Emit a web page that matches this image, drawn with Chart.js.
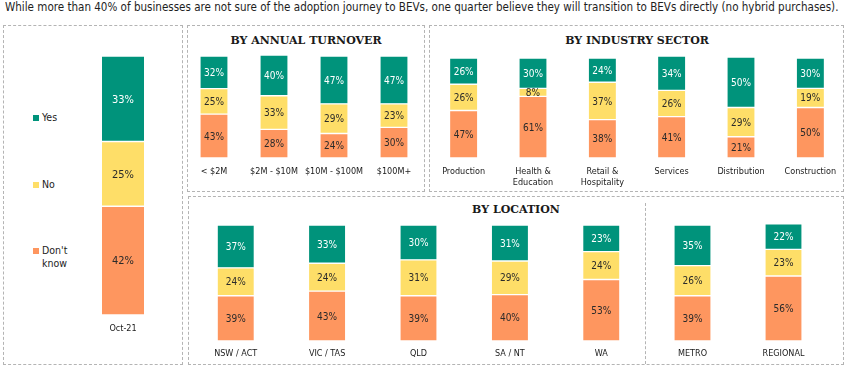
<!DOCTYPE html>
<html>
<head>
<meta charset="utf-8">
<script src="https://cdn.jsdelivr.net/npm/chart.js@4.4.0/dist/chart.umd.min.js"></script>
<style>
  body { margin: 0; background: #fff; width: 848px; height: 369px; position: relative; overflow: hidden;
         font-family: 'DejaVu Sans Condensed', sans-serif; color: #222; }
  .box { position: absolute; border: 1px dashed #b4b4b4; box-sizing: border-box; }
  .sep { position: absolute; border-left: 1px dashed #b4b4b4; width: 0; }
  .title { position: absolute; font-family: 'DejaVu Serif', serif; font-weight: bold; font-size: 11px;
           color: #1a1a1a; white-space: nowrap; transform: translate(-50%, -50%); }
  .head { position: absolute; left: 5px; top: 0px; font-size: 12px; white-space: nowrap; color: #1e1e1e; }
  .legend { position: absolute; font-size: 10.5px; color: #222; }
  .legend span.sw { position: absolute; left: 0; top: 4px; width: 6px; height: 6px; }
  .legend span.tx { position: absolute; left: 9px; top: 0; line-height: 13px; width: 40px; }
  canvas { position: absolute; }
</style>
</head>
<body>
<div class="head" id="head">While more than 40% of businesses are not sure of the adoption journey to BEVs, one quarter believe they will transition to BEVs directly (no hybrid purchases).</div>

<div class="box" style="left:3px;top:25px;width:180px;height:340px"></div>
<div class="box" style="left:187px;top:25px;width:238px;height:167px"></div>
<div class="box" style="left:429px;top:25px;width:415px;height:167px"></div>
<div class="box" style="left:188px;top:196px;width:656px;height:169px"></div>
<div class="sep" style="left:645px;top:203px;height:161px"></div>

<div class="title" style="left:306px;top:40px">BY ANNUAL TURNOVER</div>
<div class="title" style="left:637px;top:40px">BY INDUSTRY SECTOR</div>
<div class="title" style="left:516px;top:209px">BY LOCATION</div>

<div id="legend"></div>

<canvas id="overall" width="80" height="287" style="left:83px;top:52px"></canvas>
<canvas id="turnover" width="240" height="136" style="left:184px;top:52px"></canvas>
<canvas id="sector" width="416" height="135" style="left:429px;top:53px"></canvas>
<canvas id="location" width="457" height="142" style="left:190px;top:221px"></canvas>
<canvas id="area" width="182" height="142" style="left:647px;top:221px"></canvas>

<script>
const seriesNames = ['Yes', 'No', "Don't know"];
const GREEN = '#00937b';
const YELLOW = '#fede68';
const ORANGE = '#fe965f';

const overallLabels = ['Oct-21'];
const overallYes = [33];
const overallNo = [25];
const overallDk = [42];

const turnoverLabels = ['< $2M', '$2M - $10M', '$10M - $100M', '$100M+'];
const turnoverYes = [32, 40, 47, 47];
const turnoverNo = [25, 33, 29, 23];
const turnoverDk = [43, 28, 24, 30];

const sectorLabels = ['Production', ['Health &', 'Education'], ['Retail &', 'Hospitality'], 'Services', 'Distribution', 'Construction'];
const sectorYes = [26, 30, 24, 34, 50, 30];
const sectorNo = [26, 8, 37, 26, 29, 19];
const sectorDk = [47, 61, 38, 41, 21, 50];

const locationLabels = ['NSW / ACT', 'VIC / TAS', 'QLD', 'SA / NT', 'WA'];
const locationYes = [37, 33, 30, 31, 23];
const locationNo = [24, 24, 31, 29, 24];
const locationDk = [39, 43, 39, 40, 53];

const areaLabels = ['METRO', 'REGIONAL'];
const areaYes = [35, 22];
const areaNo = [26, 23];
const areaDk = [39, 56];

const FONT = "'DejaVu Sans Condensed', sans-serif";

// shrink the heading to the width it has in the original
const head = document.getElementById('head');
head.style.transformOrigin = '0 0';
head.style.transform = 'scaleX(' + (833 / head.offsetWidth) + ')';

// percentage text in the middle of each segment
const valueLabels = {
    id: 'valueLabels',
    afterDatasetsDraw(chart, args, opts) {
        const ctx = chart.ctx;
        ctx.save();
        ctx.font = opts.size + 'px ' + FONT;
        ctx.textAlign = 'center';
        ctx.textBaseline = 'middle';
        chart.data.datasets.forEach((ds, i) => {
            const meta = chart.getDatasetMeta(i);
            ctx.fillStyle = ds.label === 'Yes' ? '#ffffff' : '#2a2a2a';
            meta.data.forEach((bar, j) => {
                const v = ds.data[j];
                ctx.fillText(v + '%', bar.x, (bar.y + bar.base) / 2 + 1);
            });
        });
        ctx.restore();
    }
};

function makeChart(id, labels, yes, no, dk, barW, axisH, pad, size) {
    const common = {
        barThickness: barW,
        borderColor: '#ffffff',
        borderWidth: {top: 1, bottom: 1, left: 0, right: 0},
        borderSkipped: false,
        clip: false
    };
    return new Chart(document.getElementById(id), {
        type: 'bar',
        data: {
            labels: labels,
            datasets: [
                Object.assign({label: seriesNames[2], data: dk, backgroundColor: ORANGE}, common),
                Object.assign({label: seriesNames[1], data: no, backgroundColor: YELLOW}, common),
                Object.assign({label: seriesNames[0], data: yes, backgroundColor: GREEN}, common)
            ]
        },
        options: {
            responsive: false,
            animation: false,
            layout: {padding: {top: 4, left: 0, right: 0, bottom: 0}},
            plugins: {
                legend: {display: false},
                tooltip: {enabled: false},
                valueLabels: {size: size}
            },
            scales: {
                x: {
                    stacked: true,
                    grid: {display: false, drawTicks: false},
                    border: {display: false},
                    ticks: {
                        color: '#1a1a1a',
                        font: {family: FONT, size: 9, lineHeight: 1.2},
                        padding: pad,
                        maxRotation: 0,
                        autoSkip: false
                    },
                    afterFit: scale => { scale.height = axisH; }
                },
                y: {stacked: true, display: false, min: 0, max: 100}
            }
        },
        plugins: [valueLabels]
    });
}

makeChart('overall', overallLabels, overallYes, overallNo, overallDk, 42, 24, 8, 11);
makeChart('turnover', turnoverLabels, turnoverYes, turnoverNo, turnoverDk, 27, 30, 8, 10);
makeChart('sector', sectorLabels, sectorYes, sectorNo, sectorDk, 27, 30, 8, 10);
makeChart('location', locationLabels, locationYes, locationNo, locationDk, 36, 22, 7, 10);
makeChart('area', areaLabels, areaYes, areaNo, areaDk, 36, 22, 7, 10);

// legend of the overall panel
const legendPos = [{y: 111}, {y: 178}, {y: 244}];
const legendColors = [GREEN, YELLOW, ORANGE];
const legendEl = document.getElementById('legend');
seriesNames.forEach((name, i) => {
    const d = document.createElement('div');
    d.className = 'legend';
    d.style.left = '33px';
    d.style.top = legendPos[i].y + 'px';
    d.innerHTML = '<span class="sw" style="background:' + legendColors[i] + '"></span><span class="tx">' + name + '</span>';
    legendEl.appendChild(d);
});
</script>
</body>
</html>
